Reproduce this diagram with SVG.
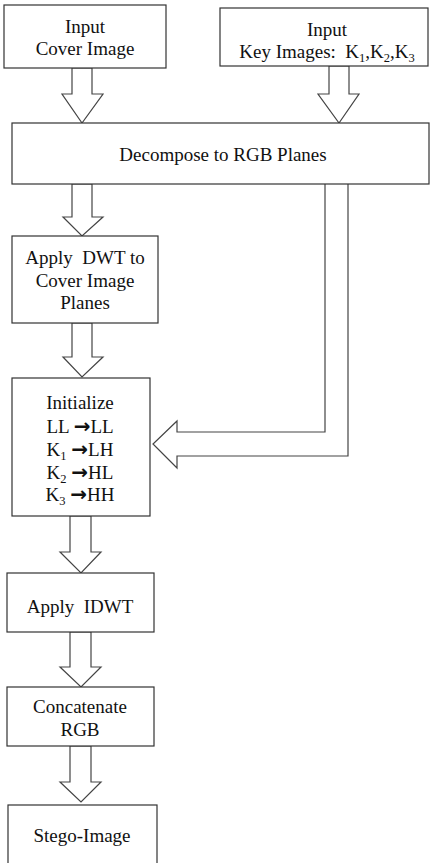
<svg xmlns="http://www.w3.org/2000/svg" width="430" height="863" viewBox="0 0 430 863">
<style>
.box{fill:#fff;stroke:#333;stroke-width:1.2}
.arr{fill:#fff;stroke:#444;stroke-width:1.2;stroke-linejoin:miter}
text{font-family:"Liberation Serif","Times New Roman",serif;font-size:19px;fill:#111;text-anchor:middle;white-space:pre}
.sub{font-size:12.5px}
.ar{font-family:"DejaVu Sans",sans-serif;font-weight:bold;font-size:20px}
</style>
<rect width="430" height="863" fill="#fff"/>
<g id="connectors">
<polygon class="arr" points="72,68 92,68 92,94 103,94 82,123 62,94 72,94"/>
<polygon class="arr" points="329,66 349,66 349,94 359,94 339,123 318,94 329,94"/>
<polygon class="arr" points="72,184 92,184 92,217 103,217 82,236 63,217 72,217"/>
<polygon class="arr" points="72,323 92,323 92,357 103,357 82,377 63,357 72,357"/>
<polygon class="arr" points="70,516 91,516 91,552 101,552 81,573 60,552 70,552"/>
<polygon class="arr" points="70,632 91,632 91,667 101,667 81,687 60,667 70,667"/>
<polygon class="arr" points="70,746 91,746 91,782 101,782 81,802 60,782 70,782"/>
<path class="arr" d="M325,184 V432 H177 V421 L153,444 L177,468 V456 H348 V184"/>
</g>
<g id="input-cover">
<rect class="box" x="4" y="5" width="162" height="63"/>
<text x="85" y="33">Input</text>
<text x="85" y="55">Cover Image</text>
</g>
<g id="input-keys">
<rect class="box" x="220" y="8" width="208" height="58"/>
<text x="327" y="36">Input</text>
<text x="327" y="58">Key Images:  K<tspan class="sub" dy="4">1</tspan><tspan dy="-4">,K</tspan><tspan class="sub" dy="4">2</tspan><tspan dy="-4">,K</tspan><tspan class="sub" dy="4">3</tspan></text>
</g>
<g id="decompose">
<rect class="box" x="12" y="123" width="417" height="61"/>
<text x="223" y="161">Decompose to RGB Planes</text>
</g>
<g id="dwt">
<rect class="box" x="12" y="236" width="146" height="87"/>
<text x="85" y="264">Apply  DWT to</text>
<text x="85" y="287">Cover Image</text>
<text x="85" y="309">Planes</text>
</g>
<g id="initialize">
<rect class="box" x="12" y="378" width="138" height="138"/>
<text x="80" y="409">Initialize</text>
<text x="80" y="433">LL <tspan class="ar">→</tspan>LL</text>
<text x="80" y="456">K<tspan class="sub" dy="4">1</tspan><tspan dy="-4"> </tspan><tspan class="ar">→</tspan>LH</text>
<text x="80" y="479">K<tspan class="sub" dy="4">2</tspan><tspan dy="-4"> </tspan><tspan class="ar">→</tspan>HL</text>
<text x="80" y="501">K<tspan class="sub" dy="4">3</tspan><tspan dy="-4"> </tspan><tspan class="ar">→</tspan>HH</text>
</g>
<g id="idwt">
<rect class="box" x="7" y="573" width="147" height="59"/>
<text x="80" y="613">Apply  IDWT</text>
</g>
<g id="concatenate">
<rect class="box" x="7" y="687" width="147" height="59"/>
<text x="80" y="713">Concatenate</text>
<text x="80" y="736">RGB</text>
</g>
<g id="stego">
<rect class="box" x="8" y="805" width="149" height="70"/>
<text x="82" y="842">Stego-Image</text>
</g>
</svg>
